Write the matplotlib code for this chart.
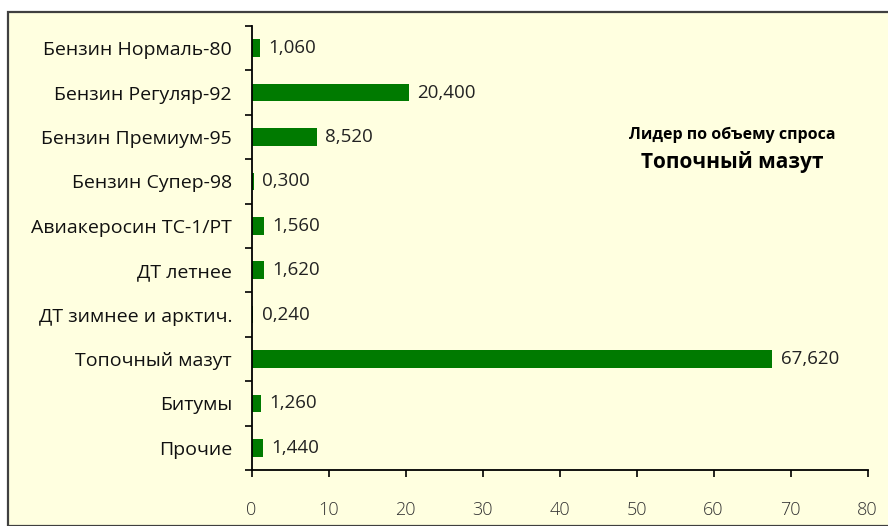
import numpy as np
import matplotlib.pyplot as plt
from matplotlib.patches import Rectangle
from matplotlib.ticker import FixedLocator

# данные
categories = ['Бензин Нормаль-80', 'Бензин Регуляр-92', 'Бензин Премиум-95',
              'Бензин Супер-98', 'Авиакеросин ТС-1/РТ', 'ДТ летнее',
              'ДТ зимнее и арктич.', 'Топочный мазут', 'Битумы', 'Прочие']
values = [1.060, 20.400, 8.520, 0.300, 1.560, 1.620, 0.240, 67.620, 1.260, 1.440]
x_ticks = [0, 10, 20, 30, 40, 50, 60, 70, 80]

bg = '#FFFFE0'
W, H = 888, 526
fig = plt.figure(figsize=(W / 100, H / 100), dpi=100, facecolor='white')

# рамка области диаграммы
fig.patches.append(Rectangle((8 / W, 0), 1.0, 1 - 12 / H, transform=fig.transFigure,
                             facecolor=bg, edgecolor='#404040', linewidth=1.6,
                             clip_on=False, zorder=-10))

left, right = 251.5 / W, 867.5 / W
bottom, top = 1 - 470 / H, 1 - 26 / H
ax = fig.add_axes([left, bottom, right - left, top - bottom])
ax.set_facecolor('none')

y = np.arange(len(categories))
ax.barh(y, values, height=0.4, color='#007A00', edgecolor='none')

for yi, v in zip(y, values):
    ax.annotate(f'{v:.3f}'.replace('.', ','), (v, yi), xytext=(6, 0),
                textcoords='offset points', va='center', ha='left',
                fontsize=13.5, family='Open Sans', color='#222222')

ax.set_xlim(0, 80)
ax.set_ylim(len(categories) - 0.5, -0.5)
ax.set_yticks(y)
ax.set_yticklabels(categories, fontsize=14, family='Open Sans', color='#111111')
ax.yaxis.set_minor_locator(FixedLocator(np.arange(-0.5, len(categories), 1)))
ax.tick_params(axis='y', which='major', length=0, pad=14)
ax.tick_params(axis='y', which='minor', length=5, width=1.2, direction='out', color='black')

ax.set_xticks(x_ticks)
ax.set_xticklabels([str(t) for t in x_ticks], fontsize=13,
                   family='Open Sans', fontweight='light', color='#333333')
ax.tick_params(axis='x', length=5, width=1.2, direction='out', pad=17, color='black')

for s in ['top', 'right']:
    ax.spines[s].set_visible(False)
for s in ['left', 'bottom']:
    ax.spines[s].set_linewidth(1.3)
    ax.spines[s].set_color('black')

fig.text(732 / W, 1 - 135 / H, 'Лидер по объему спроса', ha='center', va='center',
         fontsize=11.5, fontweight='bold', family='Open Sans')
fig.text(732 / W, 1 - 162 / H, 'Топочный мазут', ha='center', va='center',
         fontsize=15, fontweight='bold', family='Open Sans')

fig.savefig('out.png', dpi=100, facecolor='white')
